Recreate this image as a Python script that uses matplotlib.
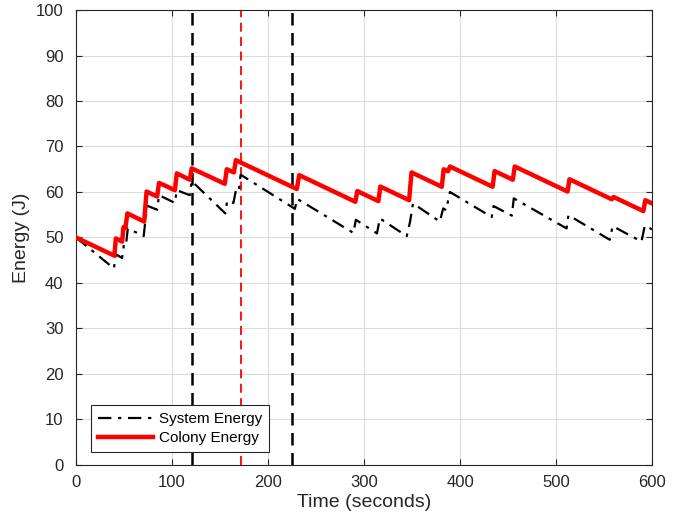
import matplotlib
matplotlib.use('Agg')
import matplotlib.pyplot as plt

plt.rcParams['font.family'] = ['Liberation Sans', 'DejaVu Sans']

# breakpoints (time in s, energy in J)
colony_t = [0, 40, 41.5, 48, 49.5, 51.5, 53.5, 71, 73.5, 84.5, 86.5, 103, 105,
            118.5, 120.5, 155, 157, 164.5, 166.5, 230, 232.5, 291, 293, 315, 317,
            347, 349.5, 381, 383, 387.5, 389.5, 434, 436, 455, 457, 512, 514,
            558, 560, 591, 593, 600]
colony_e = [50, 46, 49.8, 49.1, 52.3, 52.1, 55.3, 53.5, 60.1, 59.0, 62.0, 60.4, 64.1,
            62.7, 65.2, 61.8, 65.0, 64.3, 67.0, 60.65, 63.7, 57.85, 60.2, 58.0, 61.2,
            58.2, 64.3, 61.15, 65.0, 64.55, 65.6, 61.15, 64.6, 62.7, 65.6, 60.1, 62.8,
            58.4, 58.9, 55.8, 58.2, 57.5]

system_t = [0, 39.5, 41.5, 48, 50, 52, 54, 70.5, 74, 84.5, 86.5, 103, 105,
            118.5, 120.5, 155.5, 157.5, 164, 166.5, 169.5, 171.5, 228, 230.5,
            289, 291.5, 313.5, 316.5, 344.5, 348, 351, 379, 382.5, 385.5, 389.5,
            433, 435, 454, 456, 511, 513, 556, 559, 589, 592.5, 600]
system_e = [50, 43.2, 46.3, 45.5, 48.5, 48.3, 52.0, 50.3, 57.0, 56.1, 59.3, 57.6, 60.4,
            59.3, 62.4, 55.3, 58.0, 57.6, 60.3, 60.0, 63.8, 56.3, 58.5,
            51.0, 53.9, 50.9, 54.2, 50.3, 53.5, 57.5, 53.5, 56.4, 56.0, 60.0,
            54.5, 56.9, 54.8, 58.6, 52.0, 54.9, 49.5, 52.5, 49.1, 52.6, 51.8]

black_marks = [121, 225]
red_marks = [172]

fig = plt.figure(figsize=(6.94, 5.21), dpi=100)
ax = fig.add_axes([0.1095, 0.1075, 0.83, 0.8733])

ax.plot(system_t, system_e, color='black', linestyle=(0, (6, 3, 1.5, 3)),
        linewidth=1.6, label='System Energy', zorder=3)
ax.plot(colony_t, colony_e, color='red', linewidth=3.2, label='Colony Energy', zorder=4)

for x in black_marks:
    ax.axvline(x, color='black', linestyle=(0, (5, 3)), linewidth=1.8, zorder=2)
for x in red_marks:
    ax.axvline(x, color='red', linestyle=(0, (5, 3)), linewidth=1.3, zorder=2)

ax.set_xlim(0, 600)
ax.set_ylim(0, 100)
ax.set_xticks(range(0, 601, 100))
ax.set_yticks(range(0, 101, 10))
ax.grid(True, color='#dcdcdc', linewidth=0.8)
ax.set_axisbelow(True)
ax.tick_params(direction='in', top=True, right=True, length=4,
               labelsize=12, color='#262626', labelcolor='#262626')
ax.tick_params(axis='x', pad=7)
ax.tick_params(axis='y', pad=9)
for s in ax.spines.values():
    s.set_color('#262626')
    s.set_linewidth(0.8)

ax.set_xlabel('Time (seconds)', fontsize=14, color='#262626', labelpad=3)
ax.set_ylabel('Energy (J)', fontsize=14, color='#262626', labelpad=4)

leg = ax.legend(loc='lower left', bbox_to_anchor=(0.026, 0.028), fontsize=11,
                fancybox=False, framealpha=1, edgecolor='#262626',
                handlelength=3.6, handletextpad=0.4, borderpad=0.45,
                labelspacing=0.35, borderaxespad=0)
leg.get_frame().set_linewidth(0.8)

fig.savefig('out.png', dpi=100)
